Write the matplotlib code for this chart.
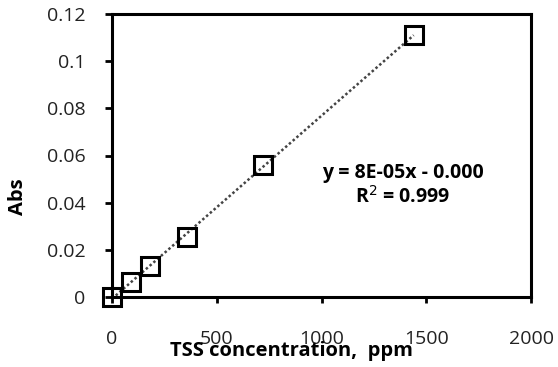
import matplotlib.pyplot as plt
import numpy as np

# calibration data
tss = [0, 90, 180, 360, 720, 1440]
absorb = [0, 0.0065, 0.013, 0.0255, 0.056, 0.111]
xticks = [0, 500, 1000, 1500, 2000]
yticks = [0, 0.02, 0.04, 0.06, 0.08, 0.1, 0.12]
ylabels = ['0', '0.02', '0.04', '0.06', '0.08', '0.1', '0.12']

plt.rcParams['font.family'] = ['Open Sans', 'DejaVu Sans']

fig = plt.figure(figsize=(5.58, 3.67), dpi=100)
ax = fig.add_axes([112 / 558, 1 - 297 / 367, 419 / 558, 283 / 367])

# linear trendline
slope, icpt = np.polyfit(tss, absorb, 1)
xs = np.array([tss[0], tss[-1]])
ax.plot(xs, slope * xs + icpt, color='#444444', lw=1.8, ls=(0, (1, 1)), zorder=2)

ax.plot(tss, absorb, ls='none', marker='s', ms=13.5, mfc='none',
        mec='black', mew=2.2, zorder=3, clip_on=False)

ax.set_xlim(0, 2000)
ax.set_ylim(0, 0.12)
ax.set_xticks(xticks)
ax.set_yticks(yticks)
ax.set_yticklabels(ylabels)

for s in ax.spines.values():
    s.set_linewidth(2.2)
ax.tick_params(direction='out', width=2, labelsize=14, labelcolor='#222222')
ax.tick_params(axis='x', length=4, pad=20)
ax.tick_params(axis='y', length=5, pad=14)

ax.text(0.694, 0.438, 'y = 8E-05x - 0.000', transform=ax.transAxes,
        ha='center', va='center', fontsize=14, fontweight='bold')
ax.text(0.694, 0.353, 'R$^2$ = 0.999', transform=ax.transAxes,
        ha='center', va='center', fontsize=14, fontweight='bold')

fig.text(291 / 558, 1 - 351 / 367, 'TSS concentration,  ppm', ha='center',
         va='center', fontsize=14.5, fontweight='bold')
fig.text(18 / 558, 1 - 197 / 367, 'Abs', ha='center', va='center',
         rotation=90, fontsize=14.5, fontweight='bold')

fig.savefig('out.png', dpi=100)
